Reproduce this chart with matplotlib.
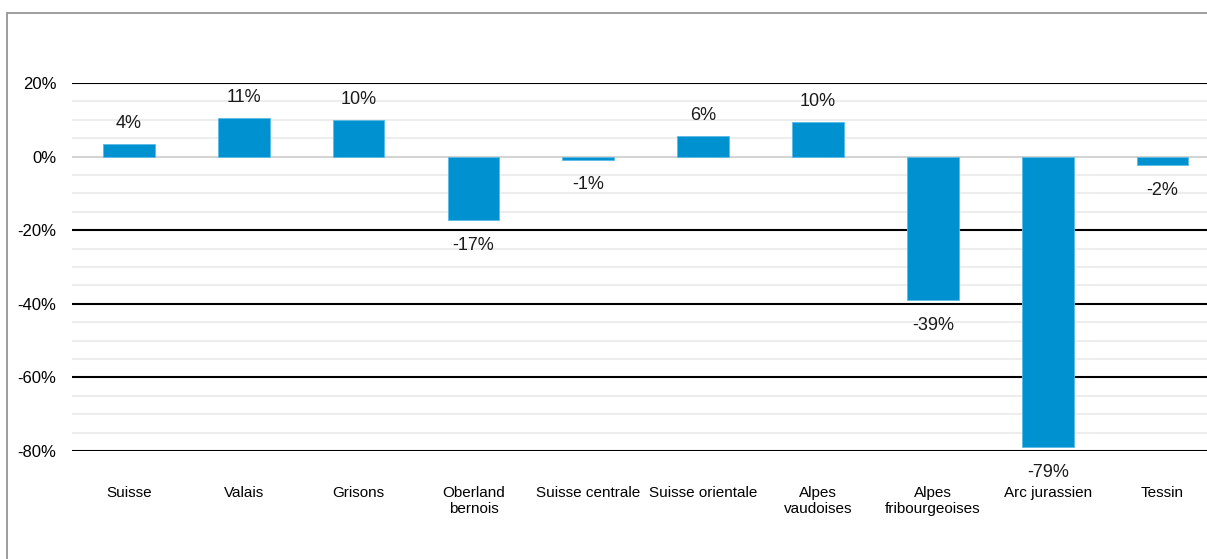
import numpy as np
import matplotlib.pyplot as plt
from matplotlib.patches import Rectangle

regions = ['Suisse', 'Valais', 'Grisons', 'Oberland\nbernois', 'Suisse centrale',
           'Suisse orientale', 'Alpes\nvaudoises', 'Alpes\nfribourgeoises',
           'Arc jurassien', 'Tessin']
changes = [3.5, 10.5, 10.0, -17.3, -0.8, 5.7, 9.5, -39.0, -79.0, -2.4]
labels = ['4%', '11%', '10%', '-17%', '-1%', '6%', '10%', '-39%', '-79%', '-2%']
yticks = [20, 0, -20, -40, -60, -80]

plt.rcParams['font.family'] = ['Liberation Sans', 'DejaVu Sans']

fig = plt.figure(figsize=(12.07, 5.59), dpi=100)
# plot area runs past the right edge of the picture, like the source
ax = fig.add_axes([71.5 / 1207, 1 - 451 / 559, 1148.5 / 1207, 368 / 559])

# outer frame (as in the exported Excel chart)
fig.patches.append(Rectangle((7 / 1207, -0.1), 1.2, 1 - 13 / 559 + 0.1,
                             transform=fig.transFigure, fill=False,
                             edgecolor='#8c8c8c', linewidth=1.2))

x = np.arange(len(regions))
ax.set_xlim(-0.5, len(regions) - 0.5)
ax.set_ylim(-80, 20)

# gridlines
for v in range(-75, 20, 5):
    if v % 20 != 0:
        ax.axhline(v, color='#ededed', linewidth=1.5, zorder=0)
for v in yticks:
    if v != 0:
        ax.axhline(v, color='black', linewidth=1.5, zorder=1)
ax.axhline(0, color='#d4d4d4', linewidth=1.5, zorder=1)

ax.bar(x, changes, width=0.45, color='#0092d0', edgecolor='#5bbbe6',
       linewidth=0.6, zorder=2)

for xi, v, lab in zip(x, changes, labels):
    off = 14.5 if v >= 0 else -18
    ax.annotate(lab, (xi, v), xytext=(0, off), textcoords='offset points',
                ha='center', va='center', fontsize=13, color='#1a1a1a')

ax.set_yticks(yticks)
ax.set_yticklabels([f'{v}%' for v in yticks], fontsize=12)
ax.set_xticks(x)
ax.set_xticklabels(regions, fontsize=11, linespacing=1.25)
ax.tick_params(axis='y', length=0, pad=11)
ax.tick_params(axis='x', length=0, pad=25)
for s in ax.spines.values():
    s.set_visible(False)

fig.savefig('out.png', dpi=100)
